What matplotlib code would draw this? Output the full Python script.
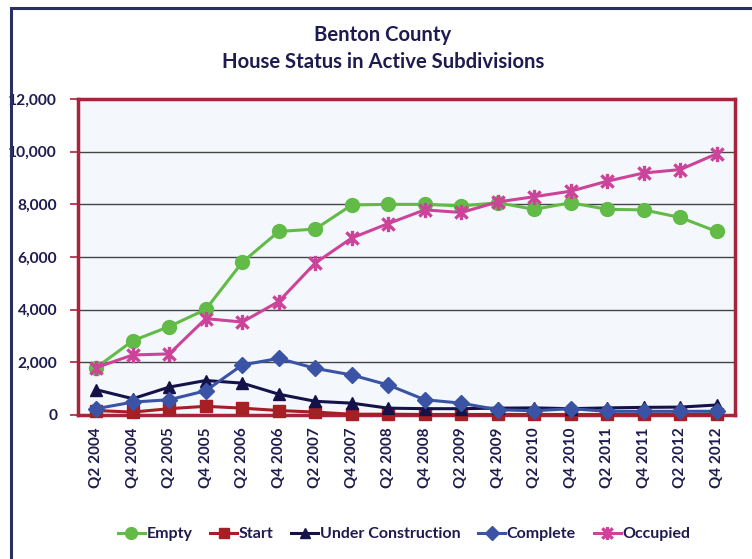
import matplotlib
matplotlib.use("Agg")
import matplotlib.pyplot as plt
from matplotlib.path import Path
from matplotlib.patches import Rectangle
from matplotlib.ticker import FuncFormatter, MultipleLocator

quarters = ["Q2 2004", "Q4 2004", "Q2 2005", "Q4 2005", "Q2 2006", "Q4 2006",
            "Q2 2007", "Q4 2007", "Q2 2008", "Q4 2008", "Q2 2009", "Q4 2009",
            "Q2 2010", "Q4 2010", "Q2 2011", "Q4 2011", "Q2 2012", "Q4 2012"]

empty = [1800, 2820, 3360, 4010, 5800, 6970, 7060, 7975, 8000, 8000,
         7940, 8060, 7810, 8060, 7810, 7790, 7500, 6970]
start = [170, 110, 240, 330, 260, 170, 110, 30, 30, 20,
         20, 20, 20, 20, 20, 20, 20, 20]
under_construction = [960, 620, 1060, 1310, 1210, 790, 520, 450, 260, 240,
                      240, 260, 270, 240, 270, 290, 300, 380]
complete = [240, 490, 580, 920, 1900, 2150, 1770, 1520, 1140, 580,
            450, 200, 160, 240, 140, 140, 140, 140]
occupied = [1800, 2280, 2320, 3660, 3530, 4310, 5770, 6720, 7270, 7790,
            7690, 8090, 8290, 8500, 8880, 9190, 9320, 9920]

NAVY = "#1E1B4F"
FONT = "Lato"

star_path = Path([(-1, -1), (1, 1), (-1, 1), (1, -1), (0, -1.25), (0, 1.25)],
                 [Path.MOVETO, Path.LINETO, Path.MOVETO, Path.LINETO, Path.MOVETO, Path.LINETO])

fig = plt.figure(figsize=(7.52, 5.59), dpi=100)
fig.patch.set_facecolor("white")

# outer chart frame
fig.patches.append(Rectangle((11 / 752, -0.05), 1.0, 1 - 8 / 559 + 0.05,
                             transform=fig.transFigure, fill=False,
                             edgecolor="#27305E", linewidth=2.2, zorder=0))

ax = fig.add_axes([78 / 752, 1 - 415 / 559, (735 - 78) / 752, (415 - 99) / 559])
ax.set_facecolor("#F4F8FD")

x = list(range(len(quarters)))
series = [
    ("Empty", empty, "#62BB46", "o", 10, {}),
    ("Start", start, "#A51F24", "s", 8.5, {}),
    ("Under Construction", under_construction, "#15124A", "^", 8.5, {}),
    ("Complete", complete, "#3A53A4", "D", 8, {}),
    ("Occupied", occupied, "#CC4499", star_path, 11, {"markerfacecolor": "none", "markeredgewidth": 2.4}),
]
handles = []
for name, vals, col, mk, ms, extra in series:
    h, = ax.plot(x, vals, color=col, linewidth=2.2, marker=mk, markersize=ms,
                 markeredgecolor=col, markerfacecolor=extra.get("markerfacecolor", col),
                 markeredgewidth=extra.get("markeredgewidth", 1), label=name, zorder=3,
                 clip_on=False)
    handles.append(h)

ax.set_xlim(-0.5, len(quarters) - 0.5)
ax.set_ylim(0, 12000)
ax.yaxis.set_major_locator(MultipleLocator(2000))
ax.yaxis.set_major_formatter(FuncFormatter(lambda v, p: f"{int(v):,}"))
ax.grid(axis="y", color="#444444", linewidth=1.0, zorder=1)
ax.set_axisbelow(True)

for s in ax.spines.values():
    s.set_color("#A8233C")
    s.set_linewidth(2.5)

ax.set_xticks(x)
ax.set_xticklabels(quarters, rotation=90, fontsize=11, fontweight="bold",
                   color=NAVY, family=FONT)
ax.tick_params(axis="x", length=0, pad=9)
ax.tick_params(axis="y", length=6, color="#A8233C", width=1.2, pad=9)
for t in ax.get_yticklabels():
    t.set_fontsize(11.2)
    t.set_fontweight("bold")
    t.set_color(NAVY)
    t.set_family(FONT)

fig.text(0.509, 1 - 35 / 559, "Benton County", ha="center", va="center",
         fontsize=14.6, fontweight="bold", color=NAVY, family=FONT)
fig.text(0.509, 1 - 62 / 559, "House Status in Active Subdivisions", ha="center",
         va="center", fontsize=14.6, fontweight="bold", color=NAVY, family=FONT)

leg = fig.legend(handles=handles, loc="center", bbox_to_anchor=(404 / 752, 1 - 534 / 559),
                 ncol=5, frameon=False, handlelength=1.7, handletextpad=0.1,
                 columnspacing=1.1, prop={"family": FONT, "weight": "bold", "size": 11.5})
for t in leg.get_texts():
    t.set_color(NAVY)
for h in leg.legend_handles:
    h.set_markersize(h.get_markersize() * 0.85)

fig.savefig("out.png", dpi=100)
